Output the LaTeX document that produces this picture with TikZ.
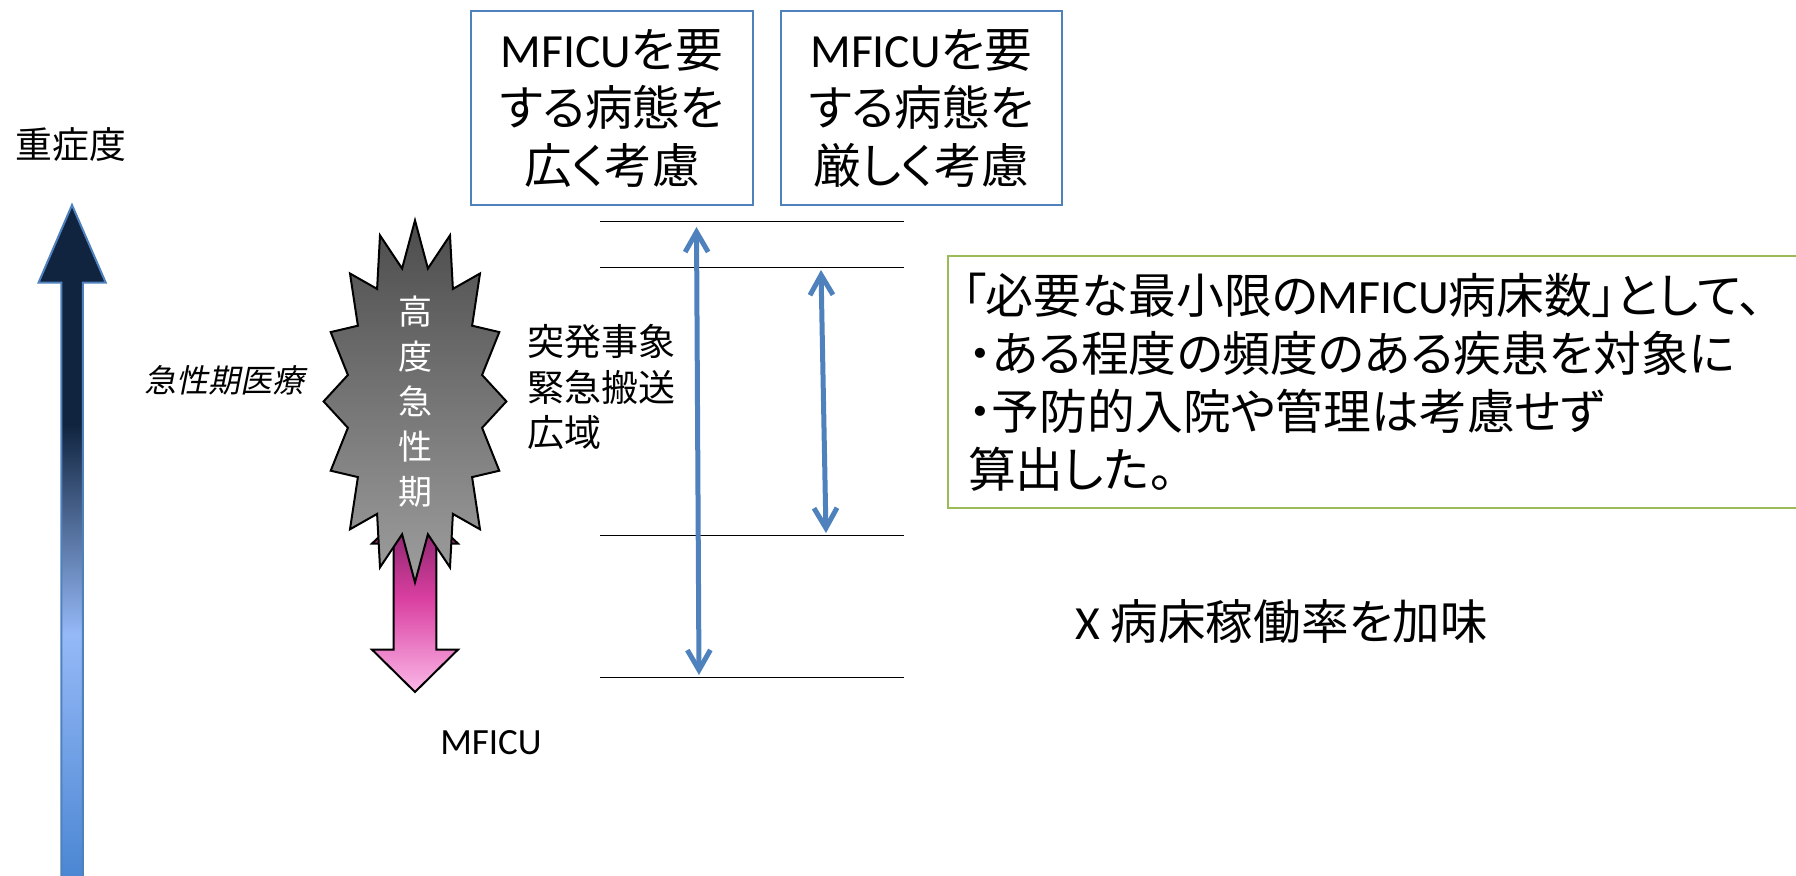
\documentclass[tikz,border=0pt]{standalone}
\usepackage{fontspec}
\setmainfont{Noto Sans CJK JP}[RawFeature=+palt]
\newfontfamily\latinfont{Carlito}
\newfontfamily\slantfont{Noto Sans CJK JP}[FakeSlant=0.2,RawFeature=+palt]
\usetikzlibrary{arrows.meta,positioning}
\definecolor{linkblue}{HTML}{4F81BD}
\definecolor{notegreen}{HTML}{9BBB59}
\definecolor{severitylow}{HTML}{4A86D2}
\definecolor{severitymid}{HTML}{95B9F7}
\definecolor{severitytop}{HTML}{10243F}
\definecolor{mficulow}{HTML}{FBB8E8}
\definecolor{mficumid}{HTML}{D93FA0}
\definecolor{mficutop}{HTML}{701C5C}
\pgfdeclareverticalshading{severity}{100bp}{color(0bp)=(severitylow); color(25bp)=(severitylow); color(43.2bp)=(severitymid); color(58.75bp)=(severitytop); color(100bp)=(severitytop)}
\pgfdeclareverticalshading{mficu}{100bp}{color(0bp)=(mficulow); color(25bp)=(mficulow); color(49.7bp)=(mficumid); color(75bp)=(mficutop); color(100bp)=(mficutop)}
\newcommand{\mficuword}{{\latinfont MFICU}}
\newcommand{\fsize}[2]{\fontsize{#1}{#2}\selectfont}
\begin{document}
\begin{tikzpicture}[x=0.5pt,y=-0.5pt,>={Straight Barb[length=10pt,width=11.5pt,line width=2.5pt]},
    band/.style={draw=black,line width=0.45pt},
    span/.style={<->,draw=linkblue,line width=2.5pt},
    casebox/.style={draw=linkblue,line width=1pt,minimum width=140.8pt,minimum height=97pt,inner sep=0pt,align=center,font=\fsize{23.8}{29}},
    plain/.style={inner sep=0pt,align=left,font=\fsize{18.5}{22.8}}]

    \useasboundingbox (0,0) rectangle (1796,875);
    \clip (0,0) rectangle (1796,875);

    \draw[draw=linkblue,line width=1pt,shading=severity,shading angle=0]
        (72,205) -- (105.7,282.5) -- (82.9,282.5) -- (82.9,880) -- (61.4,880) -- (61.4,282.5) -- (38.6,282.5) -- cycle;

    \draw[draw=black,line width=1pt,shading=mficu,shading angle=0]
        (415,502) -- (458,543.6) -- (436.4,543.6) -- (436.4,649.6) -- (458,649.6) -- (415,692)
        -- (372,649.6) -- (393.6,649.6) -- (393.6,543.6) -- (372,543.6) -- cycle;

    \draw[draw=black,line width=1pt,top color=black!70,bottom color=black!38,shift={(415,401.4)}]
        (0,-181) -- (12.9,-132.9) -- (35,-166) -- (37.9,-112.5) -- (65,-127.9) -- (57.1,-75.7)
        -- (84.3,-69.3) -- (67.1,-26.4) -- (91.4,0) -- (67.1,26.4) -- (84.3,69.3) -- (57.1,75.7)
        -- (65,127.9) -- (37.9,112.5) -- (35,166) -- (12.9,132.9) -- (0,181) -- (-12.9,132.9)
        -- (-35,166) -- (-37.9,112.5) -- (-65,127.9) -- (-57.1,75.7) -- (-84.3,69.3) -- (-67.1,26.4)
        -- (-91.4,0) -- (-67.1,-26.4) -- (-84.3,-69.3) -- (-57.1,-75.7) -- (-65,-127.9) -- (-37.9,-112.5)
        -- (-35,-166) -- (-12.9,-132.9) -- cycle;

    \node[inner sep=0pt,align=center,text=white,font=\fsize{17}{22.5}] (acute) at (415,402) {高\\度\\急\\性\\期};
    \node[inner sep=0pt,font=\fsize{16}{20}\slantfont] (acute-care) at (224,380) {急性期医療};
    \node[plain,anchor=west] (events) at (527,387) {突発事象\\緊急搬送\\広域};
    \node[inner sep=0pt,font=\fsize{18.5}{22}\latinfont] (mficu) at (491,743) {MFICU};
    \node[inner sep=0pt,font=\fsize{18.4}{22}] (severity) at (71,145) {重症度};

    \node[casebox] (box-wide) at (612,108) {\mficuword を要\\する病態を\\広く考慮};
    \node[casebox,right=12.9pt of box-wide] (box-strict) {\mficuword を要\\する病態を\\厳しく考慮};

    \coordinate (band-a-l) at (600,221);
    \coordinate (band-a-r) at (904,221);
    \coordinate (band-b-l) at (600,267);
    \coordinate (band-b-r) at (904,267);
    \coordinate (band-c-l) at (600,535);
    \coordinate (band-c-r) at (904,535);
    \coordinate (band-d-l) at (600,677);
    \coordinate (band-d-r) at (904,677);
    \draw[band] (band-a-l) -- (band-a-r);
    \draw[band] (band-b-l) -- (band-b-r);
    \draw[band] (band-c-l) -- (band-c-r);
    \draw[band] (band-d-l) -- (band-d-r);

    \coordinate (wide-top) at (696.5,227);
    \coordinate (wide-bot) at (699,675);
    \coordinate (strict-top) at (821,270);
    \coordinate (strict-bot) at (826,533);
    \draw[span] (wide-top) -- (wide-bot);
    \draw[span] (strict-top) -- (strict-bot);

    \node[draw=notegreen,line width=1pt,anchor=north west,minimum width=470pt,minimum height=126pt,
        text width=458pt,inner xsep=10pt,inner ysep=0pt,align=left,font=\fsize{23.9}{29}] (note) at (947,255)
        {\hspace{-3pt}「必要な最小限の\mficuword 病床数」として、\\・ある程度の頻度のある疾患を対象に\\・予防的入院や管理は考慮せず\\算出した。};

    \node[inner sep=0pt,anchor=west,font=\fsize{23.8}{29}] (occupancy) at (1075,622) {{\latinfont X} 病床稼働率を加味};
\end{tikzpicture}
\end{document}
